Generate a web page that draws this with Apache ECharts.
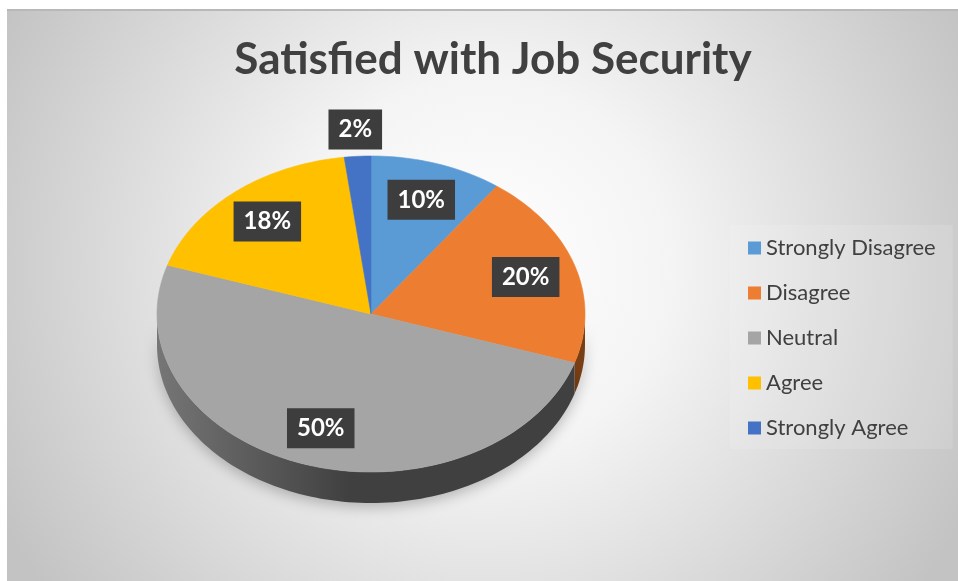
<!DOCTYPE html>
<html><head><meta charset="utf-8">
<script src="https://cdn.jsdelivr.net/npm/echarts/dist/echarts.min.js"></script>
<style>html,body{margin:0;padding:0;background:#fff}#c{width:958px;height:581px}</style>
</head><body><div id="c"></div>
<script>
// ---- data ----
const titleText = 'Satisfied with Job Security';
const categories = ['Strongly Disagree', 'Disagree', 'Neutral', 'Agree', 'Strongly Agree'];
const values = [10, 20, 50, 18, 2];
const colors = ['#5B9BD5', '#ED7D31', '#A5A5A5', '#FFC000', '#4472C4'];
const sideDark = ['#2f6392', '#7a3e14', '#404040', '#a87f00', '#2a4d8c'];
const sideLight = ['#4a7fb0', '#8a4616', '#767676', '#c99800', '#375fa5'];

// ---- layout ----
const CX = 371, CY = 314, RX = 214, RY = 158, DEPTH = 31;
const total = values.reduce((a, b) => a + b, 0);

function pt(theta, dy) {
  const r = theta * Math.PI / 180;
  return [CX + RX * Math.sin(r), CY - RY * Math.cos(r) + (dy || 0)];
}
function arcPoints(a0, a1, dy) {
  const pts = [];
  const n = Math.max(2, Math.ceil((a1 - a0) / 1.5));
  for (let k = 0; k <= n; k++) pts.push(pt(a0 + (a1 - a0) * k / n, dy));
  return pts;
}

function makeRender(i) {
  return function (params, api) {
    const v = api.value(0);
    let start = 0;
    for (let k = 0; k < i; k++) start += values[k];
    const a0 = start / total * 360, a1 = (start + v) / total * 360;
    const children = [];
    const s0 = Math.max(a0, 90), s1 = Math.min(a1, 270);
    if (s1 > s0) {
      const top = arcPoints(s0, s1, 0);
      const bot = arcPoints(s0, s1, DEPTH).reverse();
      children.push({
        type: 'polygon', z2: 1,
        shape: { points: top.concat(bot) },
        style: {
          fill: { type: 'linear', x: CX - RX, y: 0, x2: CX + RX, y2: 0, global: true,
            colorStops: [{ offset: 0, color: sideLight[i] }, { offset: 0.45, color: sideDark[i] }, { offset: 1, color: sideDark[i] }] },
          shadowBlur: 14, shadowColor: 'rgba(0,0,0,0.25)', shadowOffsetY: 4
        }
      });
    }
    const face = [[CX, CY]].concat(arcPoints(a0, a1, 0));
    children.push({
      type: 'polygon', z2: 2,
      shape: { points: face },
      style: { fill: colors[i], stroke: colors[i], lineWidth: 0.6 }
    });
    const frac = v / total;
    const mid = (a0 + a1) / 2 * Math.PI / 180;
    const rf = frac < 0.05 ? 1.17 : 0.76;
    children.push({
      type: 'text', z2: 10,
      x: CX + RX * rf * Math.sin(mid),
      y: CY - RY * rf * Math.cos(mid),
      style: {
        text: Math.round(frac * 100) + '%',
        fill: '#ffffff',
        font: 'bold 24px Lato',
        align: 'center', verticalAlign: 'middle',
        backgroundColor: '#3d3d3d',
        padding: [9, 10, 7, 10],
        boxShadowBlur: 6, boxShadowColor: 'rgba(0,0,0,0.45)', boxShadowOffsetX: 2, boxShadowOffsetY: 2
      }
    });
    return { type: 'group', children: children };
  };
}

const chart = echarts.init(document.getElementById('c'), null, { renderer: 'canvas' });
chart.setOption({
  animation: false,
  color: colors,
  graphic: [
    { type: 'rect', z: -10, silent: true, shape: { x: 7, y: 9, width: 951, height: 572 },
      style: { fill: { type: 'radial', x: 0.5, y: 0.45, r: 0.95,
        colorStops: [{ offset: 0, color: '#ffffff' }, { offset: 0.35, color: '#f4f4f4' }, { offset: 1, color: '#c3c3c3' }] } } },
    { type: 'rect', z: -9, silent: true, shape: { x: 7, y: 9, width: 951, height: 2 }, style: { fill: '#b8b8b8' } }
  ],
  title: {
    text: titleText, left: 488, top: 33, textAlign: 'center',
    textStyle: { fontFamily: 'Lato', fontWeight: 'bold', fontSize: 44, color: '#404040' }
  },
  legend: {
    orient: 'vertical', left: 730, top: 225,
    padding: [12, 17, 10, 18],
    itemWidth: 13, itemHeight: 13, itemGap: 23, icon: 'rect',
    backgroundColor: 'rgba(255,255,255,0.12)',
    data: categories,
    textStyle: { fontFamily: 'Lato', fontSize: 22, color: '#404040' }
  },
  series: categories.map((name, i) => ({
    type: 'custom', name: name, coordinateSystem: 'none',
    itemStyle: { color: colors[i] },
    renderItem: makeRender(i),
    data: [[values[i]]]
  }))
});
</script></body></html>
